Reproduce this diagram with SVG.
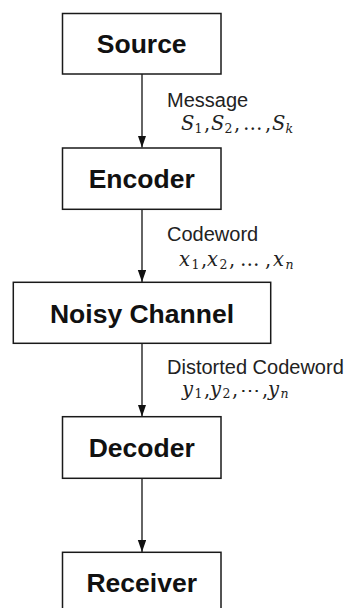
<svg xmlns="http://www.w3.org/2000/svg" width="346" height="608" viewBox="0 0 346 608">
<defs>
<marker id="ah" markerUnits="userSpaceOnUse" markerWidth="13" markerHeight="9" refX="12" refY="4.2" orient="auto">
<path d="M0,0 L12,4.2 L0,8.4 z" fill="#111"/>
</marker>
<style>
.box{fill:#fff;stroke:#1a1a1a;stroke-width:1.5}
.nt{font-family:"Liberation Sans",Arial,sans-serif;font-weight:bold;font-size:26.5px;fill:#111;text-anchor:middle}
.lb{font-family:"Liberation Sans",Arial,sans-serif;font-size:20px;fill:#222}
.m{font-family:"DejaVu Serif","Liberation Serif",serif;font-style:italic;font-size:19.5px;fill:#222}
.sub{font-style:normal;font-size:12.5px}
.subi{font-size:12.5px}
.up{font-style:normal}
.edge{stroke:#111;stroke-width:1.3;fill:none}
</style>
</defs>
<rect width="346" height="608" fill="#fff"/>
<g id="connectors">
<line class="edge" x1="142" y1="74" x2="142" y2="147.5" marker-end="url(#ah)"/>
<line class="edge" x1="142" y1="209.3" x2="142" y2="282" marker-end="url(#ah)"/>
<line class="edge" x1="142" y1="343.3" x2="142" y2="416.5" marker-end="url(#ah)"/>
<line class="edge" x1="142" y1="478.3" x2="142" y2="552" marker-end="url(#ah)"/>
<text class="lb" x="167" y="106.5">Message</text>
<text class="m" y="130"><tspan x="181">S</tspan><tspan class="sub" x="194.5" dy="3">1</tspan><tspan class="up" x="204" dy="-3">,</tspan><tspan x="211">S</tspan><tspan class="sub" x="224.5" dy="3">2</tspan><tspan class="up" x="234" dy="-3">,</tspan><tspan class="up" x="243">…</tspan><tspan class="up" x="265">,</tspan><tspan x="272">S</tspan><tspan class="subi" x="285.5" dy="3">k</tspan></text>
<text class="lb" x="167" y="240.5">Codeword</text>
<text class="m" y="265.5"><tspan x="179">x</tspan><tspan class="sub" x="191.5" dy="3">1</tspan><tspan class="up" x="201" dy="-3">,</tspan><tspan x="207">x</tspan><tspan class="sub" x="219.5" dy="3">2</tspan><tspan class="up" x="229" dy="-3">,</tspan><tspan class="up" x="240">…</tspan><tspan class="up" x="265">,</tspan><tspan x="273">x</tspan><tspan class="subi" x="285.5" dy="3">n</tspan></text>
<text class="lb" x="167" y="373.5">Distorted Codeword</text>
<text class="m" y="396"><tspan x="182">y</tspan><tspan class="sub" x="194.5" dy="2">1</tspan><tspan class="up" x="204" dy="-2">,</tspan><tspan x="210">y</tspan><tspan class="sub" x="222.5" dy="2">2</tspan><tspan class="up" x="232" dy="-2">,</tspan><tspan class="up" x="240" dy="1">⋯</tspan><tspan class="up" x="262" dy="-1">,</tspan><tspan x="268">y</tspan><tspan class="subi" x="280.5" dy="2">n</tspan></text>
</g>
<g id="source"><rect class="box" x="62.5" y="13.5" width="158.5" height="60.5"/><text class="nt" x="141.7" y="53.3">Source</text></g>
<g id="encoder"><rect class="box" x="62.5" y="148" width="158.5" height="61.3"/><text class="nt" x="141.7" y="188.3">Encoder</text></g>
<g id="noisy-channel"><rect class="box" x="13.3" y="282.3" width="257.4" height="61"/><text class="nt" x="142" y="322.8">Noisy Channel</text></g>
<g id="decoder"><rect class="box" x="62.5" y="416.7" width="158.5" height="61.6"/><text class="nt" x="141.7" y="457.1">Decoder</text></g>
<g id="receiver"><rect class="box" x="62.5" y="552.3" width="158.5" height="61"/><text class="nt" x="141.7" y="592.2">Receiver</text></g>
</svg>
